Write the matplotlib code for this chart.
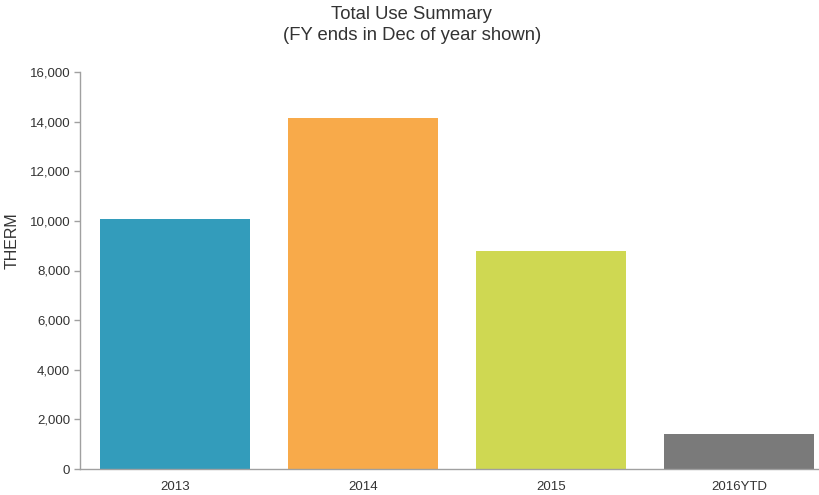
import matplotlib
matplotlib.use("Agg")
import matplotlib.pyplot as plt
from matplotlib.ticker import FuncFormatter

# values
years = ["2013", "2014", "2015", "2016YTD"]
therms = [10060, 14130, 8790, 1400]
bar_colors = ["#339cbb", "#f8aa4a", "#cfd852", "#7a7a7a"]
y_ticks = [0, 2000, 4000, 6000, 8000, 10000, 12000, 14000, 16000]

plt.rcParams["font.family"] = ["Liberation Sans", "DejaVu Sans"]

fig = plt.figure(figsize=(8.2, 4.95), dpi=100)
ax = fig.add_axes([80 / 820, 26 / 495, 740 / 820, 397 / 495])

ax.bar(range(len(years)), therms, width=0.8, color=bar_colors)

ax.set_xlim(-0.505, 3.43)
ax.set_ylim(0, 16000)
ax.set_yticks(y_ticks)
ax.yaxis.set_major_formatter(FuncFormatter(lambda v, p: f"{int(v):,}"))
ax.set_xticks(range(len(years)))
ax.set_xticklabels(years)

for side in ["top", "right"]:
    ax.spines[side].set_visible(False)
for side in ["left", "bottom"]:
    ax.spines[side].set_color("#a0a0a0")
    ax.spines[side].set_linewidth(1)

ax.tick_params(axis="y", length=4, width=1, color="#a0a0a0", labelsize=9.5,
               labelcolor="#333333", pad=3)
ax.tick_params(axis="x", length=0, labelsize=9.5, labelcolor="#333333", pad=9)

# y label sits a bit above the axes centre in the reference
fig.text(12 / 820, 1 - 241 / 495, "THERM", rotation=90, ha="center", va="center",
         fontsize=11.5, color="#333333")

fig.text(0.502, 1 - 25 / 495, "Total Use Summary\n(FY ends in Dec of year shown)",
         ha="center", va="center", fontsize=13.3, color="#333333", linespacing=1.3)

fig.savefig("out.png", dpi=100)
